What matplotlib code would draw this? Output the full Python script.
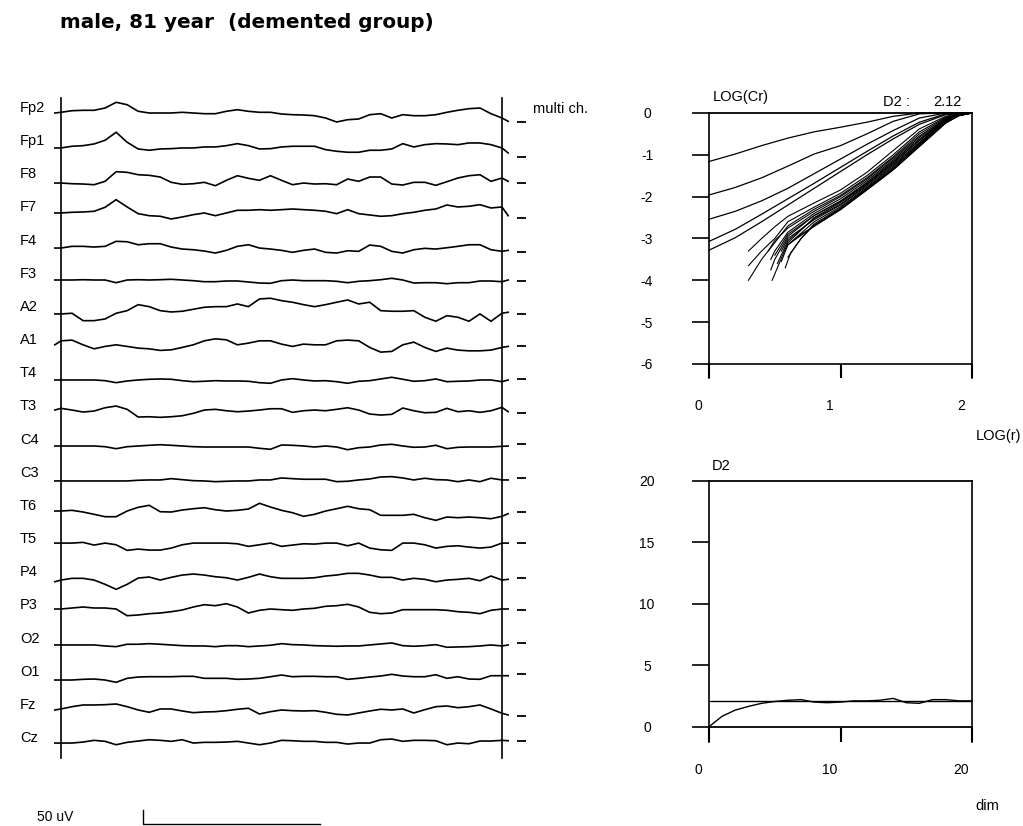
import numpy as np
import matplotlib
matplotlib.use("Agg")
import matplotlib.pyplot as plt
from matplotlib.transforms import ScaledTranslation

plt.rcParams['font.family'] = ['Liberation Sans', 'DejaVu Sans']

# ---------------- data ----------------
title = "male, 81 year  (demented group)"
channels = ["Fp2", "Fp1", "F8", "F7", "F4", "F3", "A2", "A1", "T4", "T3",
            "C4", "C3", "T6", "T5", "P4", "P3", "O2", "O1", "Fz", "Cz"]

# sample times (s): one lead-in sample, 0..10 s every 0.25 s, one tail sample
t_sec = np.concatenate([[-0.14], np.arange(41) * 0.25, [10.14]])

# channel DC offsets (uV) and mean-level dashes (uV, relative to channel baseline)
dc_offset = [0, -1.8, -3.7, -0.5, -2.4, -1.2, -2, 2, -1.7, 1.4,
             -1.4, -3.2, -0.1, 1, -2.8, 1.4, -1.4, -3.3, 0.9, 0]
mean_level = [-9, -9, 0, -5, -4, -1, -0.5, -3, 1, -3,
              2, 3, -1, 0, 2, -1, 2, 6, -7, 2]

eeg_Fp2 = [0, 0.7, 2.3, 2.7, 2.7, 5, 10.7, 8.3, 1.7, 0, 0, 0, 0.7, 0, -0.7, -0.7, 1.7, 3.3, 1.7, 0.7, 0.7, -1, -1.7, -2, -2.7,
           -5, -9, -6.7, -6, -1.7, -0.7, -5, -1.7, -2.7, -2.7, -1.7, 0.7, 2.7, 4.3, 5, -0.7, -5, -8.3]
eeg_Fp1 = [0, 0, 1.7, 2.3, 4, 7.7, 15.7, 5.7, -1, -2.3, -1, -0.7, 0, 0, 1, 1, 2.3, 4.3, 2.3, -1, -0.7, 1, 1.7, 1.7, 1.7,
           -1.7, -3.3, -4.3, -4.3, -2.3, -2.3, -1, 4.3, 1, 3.3, 4.3, 4, 3.3, 5, 5, 3.3, 0, -5]
eeg_F8 = [0, 0, -0.7, -1, -1.7, 1.7, 11.3, 10.7, 8.3, 7.7, 6, 0.7, -1.3, -0.7, 0.7, -2.7, 2.7, 7.3, 4.7, 2.7, 7.3, 2.7, -1.7, 0, -1,
          -0.7, -1.7, 4, 1.7, 6, 6, -1, -2, 0.7, 0.7, -2.3, 1.3, 5, 7.3, 8.3, 1.7, 5, 1.7]
eeg_F7 = [0, 0, 0.7, 1, 1.7, 5.7, 13.3, 6, -0.7, -2.7, -3.3, -6, -4, -1.7, 0, -2.7, 0, 2.7, 2.7, 3.3, 2.7, 3.3, 4, 3.3, 2.7,
          1.7, -0.7, 3.3, -0.7, -2, -3.3, -2.7, -0.7, 0.7, 2.7, 4, 8, 6, 6.7, 8.3, 5, 6, -2.7]
eeg_F4 = [0, 0, 1.7, 1.7, 1, 1.7, 6.7, 6.3, 3.3, 4.3, 4.3, 1, -1, -1.7, -3, -5, -2.3, 1.7, 3.3, 0, -1, -2.3, -4.3, -2.3, -1,
          -4.3, -5, -2.7, -3.3, 3, 1.7, -3.3, -5, -1.7, -0.3, -1, 0.3, 1.7, 3.3, 3.3, -1.7, -3.3, -2.3]
eeg_F3 = [0, 0, 0, 0.3, 0, 0, -2.7, 0, 0.3, 0, 0.3, 0.7, 0, -0.7, -1.7, -1.7, -1, -1, -2, -3, -3.3, -0.7, 0, -0.7, -0.7,
          -0.7, -1.3, -2.7, -1.3, -0.7, 0.3, 1.7, 0, -3, -2.7, -2.7, -3.7, -2.7, -2.7, -1, -1, -1.7, 0]
eeg_A2 = [0, 0, 0.7, -6.7, -6.7, -5, 0.7, 3.3, 9.3, 7.3, 3.3, 2, 2.7, 4.7, 6.7, 7.3, 7.3, 10, 7.3, 15, 15.7, 13.3, 11.7, 9.3, 7.3,
          9.3, 11.7, 14, 10, 11.7, 3.3, 2.7, 2.7, 3.3, -3.3, -7.3, -1.7, -3.3, -7.3, 0, -7.3, 0.7, 1.7]
eeg_A1 = [-1.7, 2.3, 3, -1.7, -5.7, -3.3, -1.7, -3.3, -5, -5.7, -7.3, -6.7, -4.3, -1.7, 2.3, 4.3, 3.3, -1.7, 0, 2.3, 2.3, -1, -3.3, -1, -1.7,
          -1.7, 2.3, 3, 2.3, -4.3, -9, -8.3, -1.7, 1, -4.3, -8.3, -5, -7, -7.7, -7.7, -7, -4.3, -3.3]
eeg_T4 = [0, 0, 0, 0, 0, -0.7, -2.7, -1, 0, 0.7, 1, 0.7, -0.7, -1.7, -1.3, -0.7, -1, -1, -1.3, -2.7, -3.3, 0, 1.3, 0, -1,
          -0.7, -1.7, -3.3, -1.3, -0.7, 1, 2.7, 0.7, -1.3, -0.7, 1, -1.7, -1.3, -1, 0, 0, -1.7, 0]
eeg_T3 = [0, 1.7, 0, -2, -1, 2.3, 4, 0.7, -7, -6.7, -7.3, -6.7, -5.7, -3.3, 0, 0.7, -0.7, -1.7, -1, 0, 1.3, 1.3, -2.3, -0.7, 0,
          -0.7, 0.7, 2.3, 0, -4, -5, -4.3, 2, -0.7, -2.7, -2.3, 1.7, -1.7, -0.7, -2.3, -0.7, 2.7, -1.7]
eeg_C4 = [0, 0, 0, 0, 0, -0.7, -2.7, -0.7, 0, 0.7, 1.3, 0.7, 0, -0.7, -1, -1, -1, -1, -1, -2.3, -3.3, 1, 0.7, 0, -1,
          0, -1, -3.7, -1.7, -1, 1, 1.7, 0, -1.3, -1, 0.7, -2.7, -1.3, -1, -1, -1, -0.3, 0]
eeg_C3 = [0, 0, 0, 0, 0, 0, 0, 0, 0.7, 1, 1, 2.3, 1.3, 0.3, 0, -0.7, -0.3, 0, 0, 1, 1, 3, 2.3, 1.7, 1.7,
          1.7, -0.7, -0.3, 1, 2, 4, 4.3, 3, 1, 2.7, 1.3, 1, -0.7, 1, -0.7, 2.7, 1, 1]
eeg_T6 = [0, 0, 0.7, -1, -3.3, -5.7, -5.7, 0, 3.7, 5.7, -0.7, -1, 1, 2.3, 3.3, 1.3, 0, 0.7, 2, 7.7, 4, 0.7, -1.7, -5.3, -3.3,
          0, 2.3, 4.7, 2.3, 1.3, -4.3, -4.3, -4.3, -3.3, -6.7, -9.3, -6, -6.7, -6, -6.7, -7.7, -5.3, -2.7]
eeg_T5 = [0, 0, 0, 0.7, -2, 0, -1.7, -7.3, -6, -7, -7, -5, -1.7, 0, 0, 0, 0, -0.7, -3.3, -1.7, 0, -3.3, -2, -0.7, -1,
          0, 0, -2.7, 0, -5, -6.7, -7.3, 0, 0, -1.7, -5, -3.3, -2.7, -4, -5, -4, 0, 0]
eeg_P4 = [-1.7, 0, 1.7, 1.7, 0, -4.3, -9.3, -4.3, 2, 3, 0, 2.7, 5, 6, 5, 3.3, 2.3, 0, 2.7, 6, 3.3, 1.7, 1.7, 1.7, 2.3,
          4, 5, 6.7, 6.7, 5, 2.7, 2.7, 0, 1.7, 0.7, -1.7, 0, 0.7, 1.7, -0.7, 4, 0, 0.7]
eeg_P3 = [0, 0, 1, 2, 1, 1, 0, -6.7, -6, -4.7, -4, -2.7, -1, 2, 4.3, 3.3, 5.3, 2, -4, -1.3, 0, -0.7, -1.3, 0, 0.7,
          2.7, 3.3, 4.7, 2, -3.3, -4.7, -4, -0.7, -0.7, -0.7, -0.7, -1.3, -2.7, -3.3, -4.7, -1.3, 0, 0]
eeg_O2 = [0, 0, 0, 0, 0, -1, -1.7, 0.7, 0.7, 1.3, 0.7, 0, -0.7, -1, -1, -1.7, -0.7, -0.7, -1.7, -1, -0.3, 1.3, 0.3, 0, -0.7,
          -1, -1.3, -1, -1, 0, 1, 2, -0.7, -1.3, -0.7, 0.3, -2.3, -2, -1.7, -1, 0, -1, 0]
eeg_O1 = [0, 0, 0, 0.7, 1, 0, -2.3, 1.7, 3, 3.3, 3.3, 3.3, 3.7, 3.7, 1.7, 1.7, 1.7, 0.7, 1, 1.7, 3.3, 5, 3.3, 3.7, 3.7,
          3.3, 3.3, 0.7, 1.7, 3, 4, 5.7, 4, 3.3, 3.3, 5.3, 1.7, 3.3, 1, 0.7, 4.3, 4.3, 4.3]
eeg_Fz = [-1, 0, 2.3, 4, 4, 4.3, 5, 2.3, -1, -3.3, 0, 0, -2, -3.7, -3, -2.7, -1.7, -0.3, 0.7, -5, -2.7, -1, -1.7, -2, -1.7,
          -3.3, -5.3, -6, -4, -2, -0.3, -1, 0, -4, -0.7, 2.3, 3, 1.3, 2.3, 4, 0, -4.3, -6]
eeg_Cz = [0, 0, 0, 1, 2.7, 1.7, -1.7, 0.7, 2, 3.3, 2.7, 1.7, 3.3, 0, 0.7, 0.7, 1, 1.7, 0, -1.7, 0, 2.7, 2.3, 1.7, 1.7,
          0.7, 0.7, -1, 0, 0, 3.3, 4, 1.7, 2.7, 2.7, 2.3, -1.7, 0, -0.7, 2, 2, 2.7, 2.3]

eeg = [eeg_Fp2, eeg_Fp1, eeg_F8, eeg_F7, eeg_F4, eeg_F3, eeg_A2, eeg_A1, eeg_T4, eeg_T3,
       eeg_C4, eeg_C3, eeg_T6, eeg_T5, eeg_P4, eeg_P3, eeg_O2, eeg_O1, eeg_Fz, eeg_Cz]

# correlation integral curves, LOG(Cr) vs LOG(r), embedding dims 1..5
cr_x_low = [0, 0.2, 0.4, 0.6, 0.8, 1.0, 1.2, 1.4, 1.6, 1.8, 2.0]
cr_dim1 = [-1.16, -0.98, -0.78, -0.60, -0.45, -0.34, -0.22, -0.08, 0, 0, 0]
cr_dim2 = [-1.96, -1.78, -1.55, -1.27, -0.98, -0.78, -0.50, -0.20, -0.02, 0, 0]
cr_dim3 = [-2.54, -2.35, -2.10, -1.80, -1.45, -1.10, -0.75, -0.42, -0.12, 0, 0]
cr_dim4 = [-3.07, -2.78, -2.42, -2.05, -1.68, -1.30, -0.92, -0.55, -0.22, -0.02, 0]
cr_dim5 = [-3.28, -2.98, -2.60, -2.20, -1.80, -1.40, -1.00, -0.62, -0.27, -0.04, 0]
# embedding dims 6..20
tail_x = [1.00, 1.20, 1.40, 1.60, 1.80, 1.90, 2.00]
bundle_x = [
    [0.30, 0.40, 0.50, 0.60, 0.80] + tail_x,
    [0.30, 0.40, 0.50, 0.60, 0.80] + tail_x,
    [0.30, 0.35, 0.40, 0.50, 0.60, 0.80] + tail_x,
    [0.45, 0.50, 0.60, 0.80] + tail_x,
    [0.47, 0.50, 0.60, 0.80] + tail_x,
    [0.47, 0.50, 0.60, 0.80] + tail_x,
    [0.48, 0.52, 0.60, 0.80] + tail_x,
    [0.50, 0.60, 0.80] + tail_x,
    [0.52, 0.60, 0.80] + tail_x,
    [0.55, 0.60, 0.80] + tail_x,
    [0.55, 0.60, 0.80] + tail_x,
    [0.58, 0.62, 0.70, 0.80] + tail_x,
    [0.60, 0.70, 0.80] + tail_x,
    [0.58, 0.60, 0.80] + tail_x,
    [0.62, 0.70, 0.80] + tail_x,
]
bundle_y = [
    [-3.30, -3.00, -2.72, -2.47, -2.15, -1.84, -1.42, -0.90, -0.38, -0.08, -0.02, 0],
    [-3.65, -3.30, -3.00, -2.60, -2.25, -1.92, -1.50, -1.00, -0.45, -0.10, -0.03, 0],
    [-4.00, -3.75, -3.50, -3.10, -2.70, -2.30, -1.97, -1.55, -1.05, -0.50, -0.12, -0.03, 0],
    [-3.30, -3.05, -2.75, -2.35, -2.00, -1.58, -1.08, -0.55, -0.14, -0.04, 0],
    [-3.50, -3.30, -2.85, -2.40, -2.05, -1.62, -1.12, -0.58, -0.15, -0.04, 0],
    [-3.75, -3.50, -2.95, -2.45, -2.10, -1.66, -1.15, -0.62, -0.16, -0.05, 0],
    [-4.00, -3.70, -3.10, -2.50, -2.14, -1.70, -1.20, -0.65, -0.17, -0.05, 0],
    [-3.40, -2.90, -2.45, -2.12, -1.68, -1.18, -0.66, -0.18, -0.05, 0],
    [-3.60, -3.05, -2.52, -2.18, -1.72, -1.23, -0.70, -0.19, -0.06, 0],
    [-3.30, -3.00, -2.55, -2.20, -1.75, -1.26, -0.72, -0.20, -0.06, 0],
    [-3.55, -3.15, -2.60, -2.24, -1.78, -1.29, -0.74, -0.21, -0.06, 0],
    [-3.70, -3.35, -3.00, -2.65, -2.27, -1.80, -1.32, -0.76, -0.22, -0.06, 0],
    [-3.45, -3.00, -2.68, -2.29, -1.82, -1.34, -0.78, -0.23, -0.06, 0],
    [-3.25, -3.15, -2.70, -2.31, -1.84, -1.36, -0.80, -0.24, -0.06, 0],
    [-3.10, -2.90, -2.71, -2.31, -1.84, -1.36, -0.80, -0.24, -0.07, 0],
]

# D2 vs embedding dimension
dims = list(range(21))
d2_values = [0.0, 0.85, 1.35, 1.65, 1.9, 2.05, 2.15, 2.2, 2.0, 1.95, 2.0,
             2.1, 2.1, 2.15, 2.3, 1.95, 1.9, 2.2, 2.2, 2.1, 2.1]
d2_estimate = 2.12

# ---------------- figure ----------------
W, H, DPI = 1023, 826, 100
fig = plt.figure(figsize=(W / DPI, H / DPI), dpi=DPI)
fig.patch.set_facecolor('white')


def px_axes(x0, y0, x1, y1):
    return fig.add_axes([x0 / W, 1 - y1 / H, (x1 - x0) / W, (y1 - y0) / H])


def fx(x):
    return x / W


def fy(y):
    return 1 - y / H


fig.text(fx(60), fy(23), title, fontsize=14.4, fontweight='bold',
         family=['DejaVu Sans'], ha='left', va='center')

# ---- EEG panel ----
SP = 33.16  # channel spacing (uV)
ax = px_axes(61, 98, 502, 758)
ax.set_xlim(0, 10)
ax.set_ylim(-645, 15)
for s in ['top', 'bottom']:
    ax.spines[s].set_visible(False)
for s in ['left', 'right']:
    ax.spines[s].set_linewidth(1.2)
ax.set_xticks([])
ax.set_yticks([])
ax.patch.set_alpha(0)

for i, (name, vals) in enumerate(zip(channels, eeg)):
    base = -SP * i + dc_offset[i]
    ax.plot(t_sec, base + np.asarray(vals), color='black', lw=1.2, clip_on=False,
            solid_joinstyle='miter')
    ax.text(-0.93, -SP * i + 5, name, fontsize=10.5, ha='left', va='center')
    ax.hlines(base + mean_level[i], 10.34, 10.54, color='black', lw=1.3, clip_on=False)

ax.text(10.7, 4, "multi ch.", fontsize=10.5, ha='left', va='center')

# scale bar
ax.plot([1.86, 1.86, 5.87], [-697, -711, -711], color='black', lw=1.0, clip_on=False)
ax.text(-0.54, -704, "50 uV", fontsize=10, ha='left', va='center')

# ---- correlation integral panel ----
ax1 = px_axes(709, 113, 972, 378)
ax1.set_xlim(0, 2)
ax1.set_ylim(-6.335, 0)
for s in ['top', 'bottom']:
    ax1.spines[s].set_visible(False)
for s in ['left', 'right']:
    ax1.spines[s].set_linewidth(1.2)
ax1.axhline(0, color='black', lw=1.3, clip_on=False)
ax1.axhline(-6, color='black', lw=1.2, clip_on=False)
for ys in [cr_dim1, cr_dim2, cr_dim3, cr_dim4, cr_dim5]:
    ax1.plot(cr_x_low, ys, color='black', lw=0.9, clip_on=False)
for xs, ys in zip(bundle_x, bundle_y):
    ax1.plot(xs, ys, color='black', lw=0.8, clip_on=False)
ax1.set_yticks([0, -1, -2, -3, -4, -5, -6])
ax1.set_yticklabels(['0', '-1', '-2', '-3', '-4', '-5', '-6'])
ax1.tick_params(axis='y', direction='out', length=12.2, width=1.2, pad=32.4, labelsize=10)
plt.setp(ax1.get_yticklabels(), ha='center')
ax1.set_xticks([0, 1, 2])
ax1.set_xticklabels(['0', '1', '2'])
ax1.tick_params(axis='x', direction='in', length=10, width=1.5, pad=15, labelsize=10)
off = ScaledTranslation(-11 / DPI, 0, fig.dpi_scale_trans)
for lab in ax1.get_xticklabels():
    lab.set_transform(lab.get_transform() + off)

fig.text(fx(713), fy(97), "LOG(Cr)", fontsize=10.5, ha='left', va='center')
fig.text(fx(883), fy(102), "D2 :", fontsize=10.5, ha='left', va='center')
fig.text(fx(933), fy(102), f"{d2_estimate:.2f}", fontsize=10.5, ha='left', va='center')
fig.text(fx(1021), fy(436), "LOG(r)", fontsize=10.5, ha='right', va='center')

# ---- D2 vs dim panel ----
ax2 = px_axes(709, 480.7, 972, 741.7)
ax2.set_xlim(0, 20)
ax2.set_ylim(-1.22, 20)
for s in ['top', 'bottom']:
    ax2.spines[s].set_visible(False)
for s in ['left', 'right']:
    ax2.spines[s].set_linewidth(1.2)
ax2.axhline(0, color='black', lw=1.3, clip_on=False)
ax2.axhline(20, color='black', lw=1.3, clip_on=False)
ax2.axhline(d2_estimate, color='black', lw=1.0)
ax2.plot(dims, d2_values, color='black', lw=1.0, clip_on=False)
ax2.set_yticks([0, 5, 10, 15, 20])
ax2.set_yticklabels(['0', '5', '10', '15', '20'])
ax2.tick_params(axis='y', direction='out', length=12.2, width=1.2, pad=32.4, labelsize=10)
plt.setp(ax2.get_yticklabels(), ha='center')
ax2.set_xticks([0, 10, 20])
ax2.set_xticklabels(['0', '10', '20'])
ax2.tick_params(axis='x', direction='in', length=10, width=1.5, pad=15, labelsize=10)
for lab in ax2.get_xticklabels():
    lab.set_transform(lab.get_transform() + off)

fig.text(fx(712), fy(466), "D2", fontsize=10.5, ha='left', va='center')
fig.text(fx(975), fy(806), "dim", fontsize=10.5, ha='left', va='center')

fig.savefig("out.png", dpi=DPI, facecolor='white')
